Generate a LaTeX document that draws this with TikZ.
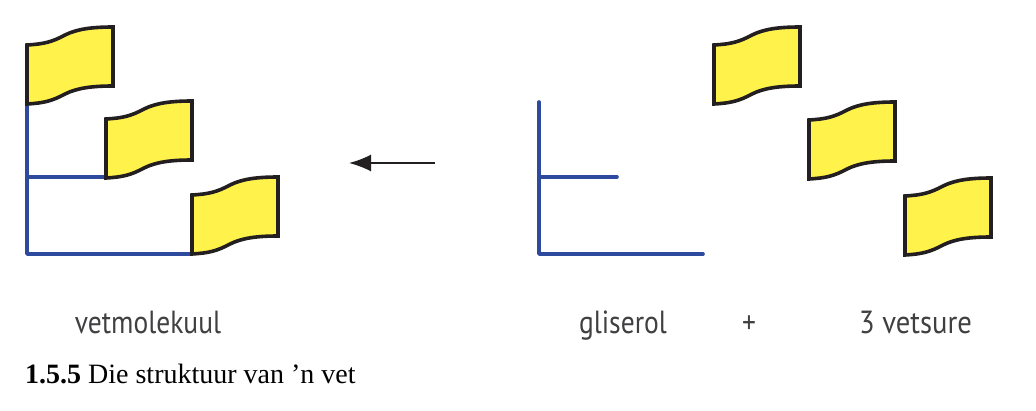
\documentclass[tikz,border=0pt]{standalone}
\usepackage{fontspec}
\setmainfont{Liberation Serif}
\newfontfamily\labelfont{PT Sans}
\usetikzlibrary{arrows.meta}
\definecolor{flagyellow}{HTML}{FFF24A}
\definecolor{flagline}{HTML}{231F20}
\definecolor{stemblue}{HTML}{2E4A9E}
\definecolor{labelgrey}{HTML}{404042}
\tikzset{
  flagshape/.style={draw=flagline,fill=flagyellow,line width=3.6pt,line join=miter},
  stem/.style={draw=stemblue,line width=3.6pt,line cap=round,line join=round},
  reactarrow/.style={draw=flagline,line width=1.7pt,-{Latex[length=22pt,width=17pt]}},
  partlabel/.style={font=\labelfont\fontsize{32}{36}\selectfont,text=labelgrey,inner sep=0pt,anchor=base,xscale=0.86},
  caption/.style={font=\fontsize{28}{32}\selectfont,text=black,inner sep=0pt,anchor=base west},
  pics/fatflag/.style={code={
    \path[flagshape] (0,0) .. controls (17,-1) and (25,-3) .. (38,-10)
      .. controls (50,-16) and (65,-18) .. (86,-18) -- (86,41)
      .. controls (65,41) and (50,43) .. (38,49)
      .. controls (25,56) and (17,58) .. (0,59) -- cycle;
  }}
}
\begin{document}
\begin{tikzpicture}[x=1pt,y=-1pt]
\useasboundingbox (0,0) rectangle (1036,410);
\coordinate (ltop) at (27,103);
\coordinate (lmid) at (27,177);
\coordinate (lbot) at (27,254);
\coordinate (lmidend) at (106,177);
\coordinate (lbotend) at (192,254);
\coordinate (rtop) at (539,102);
\coordinate (rmid) at (539,177);
\coordinate (rbot) at (539,254);
\coordinate (rmidend) at (617,177);
\coordinate (rbotend) at (703,254);
\coordinate (arrowstart) at (435,163);
\coordinate (arrowend) at (349,163);
\path[stem] (ltop) -- (lbot) -- (lbotend);
\path[stem] (lmid) -- (lmidend);
\path[stem] (rtop) -- (rbot) -- (rbotend);
\path[stem] (rmid) -- (rmidend);
\pic at (27,45) {fatflag};
\pic at (106,119) {fatflag};
\pic at (192,195) {fatflag};
\pic at (714,45) {fatflag};
\pic at (809,120) {fatflag};
\pic at (905,196) {fatflag};
\draw[reactarrow] (arrowstart) -- (arrowend);
\node[partlabel] (vet) at (148,333) {vetmolekuul};
\node[partlabel] (gli) at (623,333) {gliserol};
\node[partlabel] (plus) at (749,333) {+};
\node[partlabel,xscale=1.04] (suur) at (915.5,333) {3 vetsure};
\node[caption] (cap) at (25,383) {\textbf{1.5.5} Die struktuur van ’n vet};
\end{tikzpicture}
\end{document}
